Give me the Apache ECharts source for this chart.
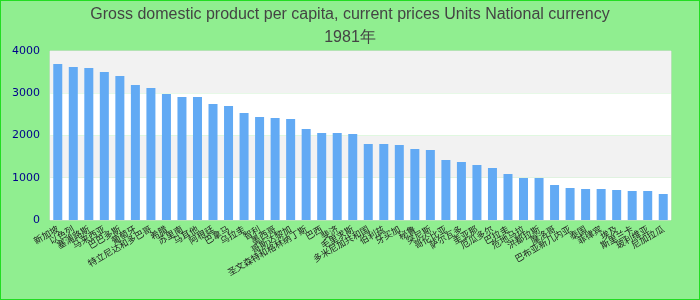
<!DOCTYPE html>
<html>
<head>
<meta charset="utf-8">
<script src="https://cdn.jsdelivr.net/npm/echarts@6/dist/echarts.min.js"></script>
<style>
html,body{margin:0;padding:0;background:#90ee90;}
#wrap{position:relative;width:700px;height:300px;}
#chart{width:700px;height:300px;}
#wrap::after{content:"";position:absolute;left:0;top:0;right:0;bottom:0;border:1px solid #22dd22;pointer-events:none;}
</style>
</head>
<body>
<div id="wrap"><div id="chart"></div></div>
<script>
const titleLine1 = "Gross domestic product per capita, current prices Units National currency";
const titleLine2 = "1981年";
const categories = ["新加坡","以色列","塞浦路斯","马来西亚","巴巴多斯","葡萄牙","特立尼达和多巴哥","希腊","苏里南","马耳他",
  "阿根廷","巴拿马","乌拉圭","智利","墨西哥","哥斯达黎加","圣文森特和格林纳丁斯","巴西","斐济","毛里求斯",
  "多米尼加共和国","伯利兹","牙买加","秘鲁","突尼斯","哥伦比亚","萨尔瓦多","圭亚那","厄瓜多尔","巴拉圭",
  "危地马拉","洪都拉斯","摩洛哥","巴布亚新几内亚","泰国","菲律宾","埃及","斯里兰卡","玻利维亚","尼加拉瓜"];
const values = [3692,3621,3598,3503,3408,3195,3124,2982,2911,2911,
  2746,2698,2533,2438,2414,2390,2154,2059,2059,2036,
  1799,1799,1775,1680,1657,1420,1373,1302,1231,1089,
  994,994,828,757,734,734,710,686,686,615];
const yTicks = [0,1000,2000,3000,4000];

const chart = echarts.init(document.getElementById('chart'), null, {renderer:'canvas'});
chart.setOption({
  backgroundColor: '#90ee90',
  animation: false,
  title: {
    text: titleLine1 + "\n" + titleLine2,
    left: 'center',
    top: -2,
    textStyle: {fontFamily: 'Liberation Sans, Arial, sans-serif', fontSize: 16, fontWeight: 'normal', color: '#444', lineHeight: 23}
  },
  grid: {left: 50, right: 29, top: 51, bottom: 80, show: true, borderColor: '#d8d8d8', borderWidth: 1, backgroundColor: 'transparent'},
  xAxis: {
    type: 'category',
    data: categories,
    axisLine: {show: false},
    axisTick: {show: false},
    axisLabel: {interval: 0, rotate: 30, fontSize: 9, color: '#222', margin: 8, fontFamily: 'Noto Sans CJK SC, sans-serif'}
  },
  yAxis: {
    type: 'value',
    min: yTicks[0],
    max: yTicks[yTicks.length-1],
    interval: 1000,
    axisLine: {show: false},
    axisTick: {show: false},
    splitLine: {show: false},
    splitArea: {show: true, areaStyle: {color: ['#ffffff', '#f2f2f2']}},
    axisLabel: {fontSize: 11, color: '#00008b', fontFamily: 'DejaVu Sans, sans-serif', margin: 10,
      formatter: function (v) { return String(v); }}
  },
  series: [{
    type: 'bar',
    data: values,
    barWidth: '58%',
    itemStyle: {color: '#62aaf4'}
  }]
});
</script>
</body>
</html>
